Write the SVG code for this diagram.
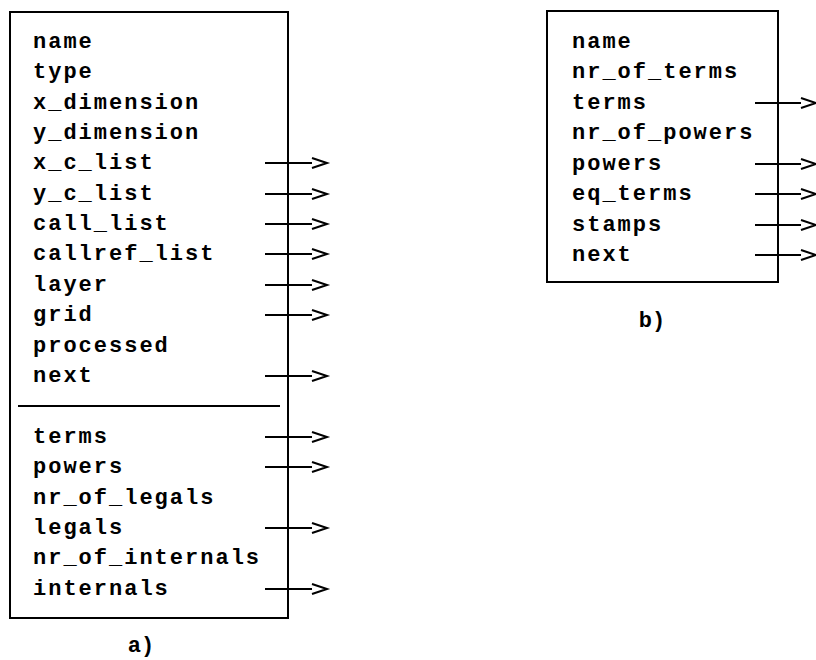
<svg xmlns="http://www.w3.org/2000/svg" width="816" height="660" viewBox="0 0 816 660">
<style>
.box{fill:none;stroke:#000;stroke-width:2}
.t{font-family:"Liberation Mono","DejaVu Sans Mono",monospace;font-size:22px;font-weight:bold;letter-spacing:2px;fill:#000}
.lbl{font-family:"Liberation Mono","DejaVu Sans Mono",monospace;font-size:22px;font-weight:bold;fill:#000}
.c{fill:none;stroke:#000;stroke-width:2}
</style>
<defs>
<marker id="ah" markerUnits="userSpaceOnUse" markerWidth="20" markerHeight="14" refX="1" refY="7" orient="auto" viewBox="0 0 20 14">
<path d="M1,2 L16,7 L1,12" fill="none" stroke="#000" stroke-width="2"/>
</marker>
</defs>
<rect width="816" height="660" fill="#fff"/>
<g id="nodeA">
<rect class="box" x="10" y="12" width="278" height="606"/>
<line class="box" x1="18" y1="406" x2="280" y2="406"/>
<text class="t" x="33" y="48">name</text>
<text class="t" x="33" y="78">type</text>
<text class="t" x="33" y="109">x_dimension</text>
<text class="t" x="33" y="139">y_dimension</text>
<text class="t" x="33" y="169">x_c_list</text>
<text class="t" x="33" y="200">y_c_list</text>
<text class="t" x="33" y="230">call_list</text>
<text class="t" x="33" y="260">callref_list</text>
<text class="t" x="33" y="291">layer</text>
<text class="t" x="33" y="321">grid</text>
<text class="t" x="33" y="352">processed</text>
<text class="t" x="33" y="382">next</text>
<text class="t" x="33" y="443">terms</text>
<text class="t" x="33" y="473">powers</text>
<text class="t" x="33" y="504">nr_of_legals</text>
<text class="t" x="33" y="534">legals</text>
<text class="t" x="33" y="564">nr_of_internals</text>
<text class="t" x="33" y="595">internals</text>
<text class="lbl" x="141" y="652" text-anchor="middle">a)</text>
</g>
<g id="nodeB">
<rect class="box" x="547" y="11" width="231" height="271"/>
<text class="t" x="572" y="48">name</text>
<text class="t" x="572" y="78">nr_of_terms</text>
<text class="t" x="572" y="109">terms</text>
<text class="t" x="572" y="139">nr_of_powers</text>
<text class="t" x="572" y="170">powers</text>
<text class="t" x="572" y="200">eq_terms</text>
<text class="t" x="572" y="231">stamps</text>
<text class="t" x="572" y="261">next</text>
<text class="lbl" x="652" y="327" text-anchor="middle">b)</text>
</g>
<g id="connectors">
<line class="c" x1="265" y1="163" x2="312" y2="163" marker-end="url(#ah)"/>
<line class="c" x1="265" y1="194" x2="312" y2="194" marker-end="url(#ah)"/>
<line class="c" x1="265" y1="224" x2="312" y2="224" marker-end="url(#ah)"/>
<line class="c" x1="265" y1="254" x2="312" y2="254" marker-end="url(#ah)"/>
<line class="c" x1="265" y1="285" x2="312" y2="285" marker-end="url(#ah)"/>
<line class="c" x1="265" y1="315" x2="312" y2="315" marker-end="url(#ah)"/>
<line class="c" x1="265" y1="376" x2="312" y2="376" marker-end="url(#ah)"/>
<line class="c" x1="265" y1="437" x2="312" y2="437" marker-end="url(#ah)"/>
<line class="c" x1="265" y1="467" x2="312" y2="467" marker-end="url(#ah)"/>
<line class="c" x1="265" y1="528" x2="312" y2="528" marker-end="url(#ah)"/>
<line class="c" x1="265" y1="589" x2="312" y2="589" marker-end="url(#ah)"/>
<line class="c" x1="755" y1="103" x2="801" y2="103" marker-end="url(#ah)"/>
<line class="c" x1="755" y1="164" x2="801" y2="164" marker-end="url(#ah)"/>
<line class="c" x1="755" y1="194" x2="801" y2="194" marker-end="url(#ah)"/>
<line class="c" x1="755" y1="225" x2="801" y2="225" marker-end="url(#ah)"/>
<line class="c" x1="755" y1="255" x2="801" y2="255" marker-end="url(#ah)"/>
</g>
</svg>
